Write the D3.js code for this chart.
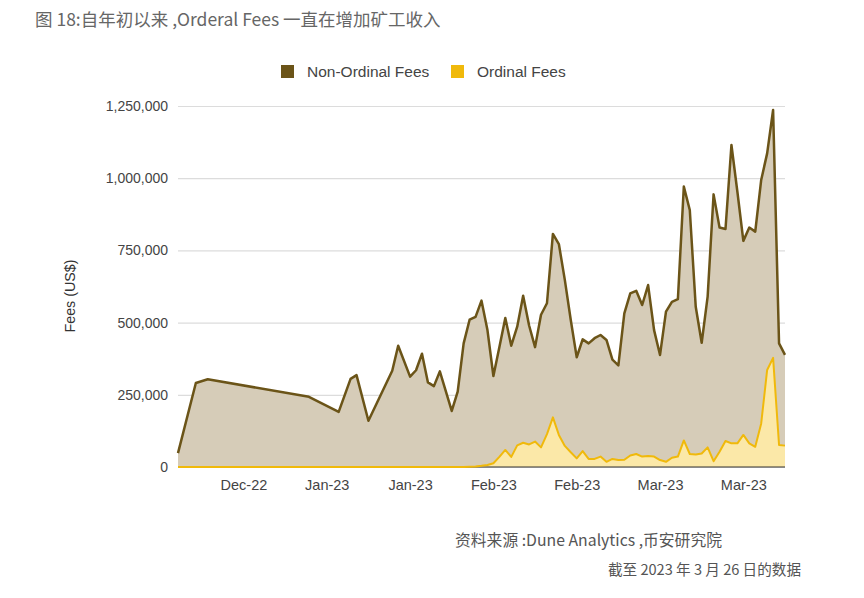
<!DOCTYPE html>
<html><head><meta charset="utf-8">
<script src="https://cdn.jsdelivr.net/npm/d3@7"></script>
<style>
html,body{margin:0;padding:0;background:#fff;}
svg{display:block;}
</style></head>
<body>
<svg id="chart" width="864" height="598"></svg>
<script>
const dates = ["2022-12-14","2022-12-17","2022-12-19","2023-01-05","2023-01-10","2023-01-12","2023-01-13","2023-01-15","2023-01-19","2023-01-20","2023-01-22","2023-01-23","2023-01-24","2023-01-25","2023-01-26","2023-01-27","2023-01-29","2023-01-30","2023-01-31","2023-02-01","2023-02-02","2023-02-03","2023-02-04","2023-02-05","2023-02-06","2023-02-07","2023-02-08","2023-02-09","2023-02-10","2023-02-11","2023-02-12","2023-02-13","2023-02-14","2023-02-15","2023-02-16","2023-02-17","2023-02-18","2023-02-19","2023-02-20","2023-02-21","2023-02-22","2023-02-23","2023-02-24","2023-02-25","2023-02-26","2023-02-27","2023-02-28","2023-03-01","2023-03-02","2023-03-03","2023-03-04","2023-03-05","2023-03-06","2023-03-07","2023-03-08","2023-03-09","2023-03-10","2023-03-11","2023-03-12","2023-03-13","2023-03-14","2023-03-15","2023-03-16","2023-03-17","2023-03-18","2023-03-19","2023-03-20","2023-03-21","2023-03-22","2023-03-23","2023-03-24","2023-03-25","2023-03-26"];
const nonOrdinalFees = [48000,291000,304000,243000,191000,305000,318000,160000,333000,420000,313000,335000,392000,293000,280000,331000,194000,261000,428000,510000,520000,576000,474000,315000,415000,516000,420000,486000,593000,490000,415000,527000,567000,807000,772000,648000,509000,380000,442000,428000,446000,457000,440000,372000,352000,532000,601000,610000,561000,630000,474000,388000,538000,572000,581000,971000,890000,555000,430000,590000,944000,829000,824000,1115000,953000,783000,829000,815000,994000,1086000,1236000,428000,388000];
const ordinalFees = [0,0,0,0,0,0,0,0,0,0,0,0,0,0,0,0,0,0,0,1000,2000,4000,7000,13000,35000,59000,35000,75000,84000,78000,88000,68000,114000,172000,111000,73000,51000,30000,55000,28000,28000,36000,18000,28000,24000,25000,40000,45000,36000,38000,36000,24000,18000,32000,36000,92000,45000,43000,47000,68000,20000,53000,90000,82000,82000,111000,82000,70000,151000,336000,378000,76000,74000];
const seriesNames = ["Non-Ordinal Fees","Ordinal Fees"];
const xTickDates = ["2022-12-25","2023-01-08","2023-01-22","2023-02-05","2023-02-19","2023-03-05","2023-03-19"];
const yTickValues = [0,250000,500000,750000,1000000,1250000];
const titleText = "图 18:自年初以来 ,Orderal Fees 一直在增加矿工收入";
const yAxisTitle = "Fees (US$)";
const sourceText = "资料来源 :Dune Analytics ,币安研究院";
const dateNote = "截至 2023 年 3 月 26 日的数据";

const parse = d3.utcParse("%Y-%m-%d");
const data = dates.map((d,i)=>({date:parse(d), non:nonOrdinalFees[i], ord:ordinalFees[i]}));

const svg = d3.select("#chart");
const L=178, R=785, T=106, B=467;
const x = d3.scaleUtc().domain([parse(dates[0]), parse(dates[dates.length-1])]).range([L,R]);
const y = d3.scaleLinear().domain([0,1250000]).range([B,T]);

const cjk = "'Noto Sans CJK SC','Noto Sans',sans-serif";
const sans = "'Liberation Sans',Arial,sans-serif";

svg.append("text").attr("x",35).attr("y",26).attr("font-family",cjk).attr("font-size",17.5)
  .attr("fill","#666").text(titleText);

// grid
const yAxis = d3.axisLeft(y).tickValues(yTickValues).tickFormat(d3.format(",")).tickSize(-(R-L)).tickPadding(10);
const gy = svg.append("g").attr("transform",`translate(${L},0)`).call(yAxis);
gy.select(".domain").remove();
gy.selectAll(".tick line").attr("stroke","#dcdcdc").attr("stroke-width",1.2);
gy.selectAll(".tick text").attr("font-family",sans).attr("font-size",14).attr("fill","#444");

// areas
const colors = {non:"#6b5418", nonFill:"#d6ccb8", ord:"#f0b90b", ordFill:"#fbe8a8"};
const areaNon = d3.area().x(d=>x(d.date)).y0(y(0)).y1(d=>y(d.non));
const lineNon = d3.line().x(d=>x(d.date)).y(d=>y(d.non));
const areaOrd = d3.area().x(d=>x(d.date)).y0(y(0)).y1(d=>y(d.ord));
const lineOrd = d3.line().x(d=>x(d.date)).y(d=>y(d.ord));

svg.append("path").datum(data).attr("d",areaNon).attr("fill",colors.nonFill);
svg.append("path").datum(data).attr("d",areaOrd).attr("fill",colors.ordFill);
svg.append("line").attr("x1",L).attr("x2",R).attr("y1",y(0)).attr("y2",y(0)).attr("stroke","#333").attr("stroke-width",1);
svg.append("path").datum(data).attr("d",lineOrd).attr("fill","none").attr("stroke",colors.ord).attr("stroke-width",2).attr("stroke-linejoin","round");
svg.append("path").datum(data).attr("d",lineNon).attr("fill","none").attr("stroke",colors.non).attr("stroke-width",2.5).attr("stroke-linejoin","round");

// x axis
const xAxis = d3.axisBottom(x).tickValues(xTickDates.map(parse)).tickFormat(d3.utcFormat("%b-%y")).tickSize(0).tickPadding(13);
const gx = svg.append("g").attr("transform",`translate(0,${B})`).call(xAxis);
gx.select(".domain").remove();
gx.selectAll(".tick text").attr("font-family",sans).attr("font-size",14.5).attr("fill","#444");

// y title
svg.append("text").attr("transform","translate(75,296) rotate(-90)").attr("text-anchor","middle")
  .attr("font-family",sans).attr("font-size",14.3).attr("fill","#333").text(yAxisTitle);

// legend
const legend = [{name:seriesNames[0], c:"#6b5418", x:281},{name:seriesNames[1], c:"#f0b90b", x:451}];
legend.forEach(l=>{
  svg.append("rect").attr("x",l.x).attr("y",65).attr("width",13).attr("height",13).attr("fill",l.c);
  svg.append("text").attr("x",l.x+26).attr("y",77).attr("font-family",sans).attr("font-size",15.5).attr("fill","#444").text(l.name);
});

// footer
svg.append("text").attr("x",455).attr("y",546).attr("font-family",cjk).attr("font-size",15.8).attr("fill","#555").text(sourceText);
svg.append("text").attr("x",801).attr("y",575).attr("text-anchor","end").attr("font-family",cjk).attr("font-size",14.6).attr("fill","#555").text(dateNote);
</script>
</body></html>
